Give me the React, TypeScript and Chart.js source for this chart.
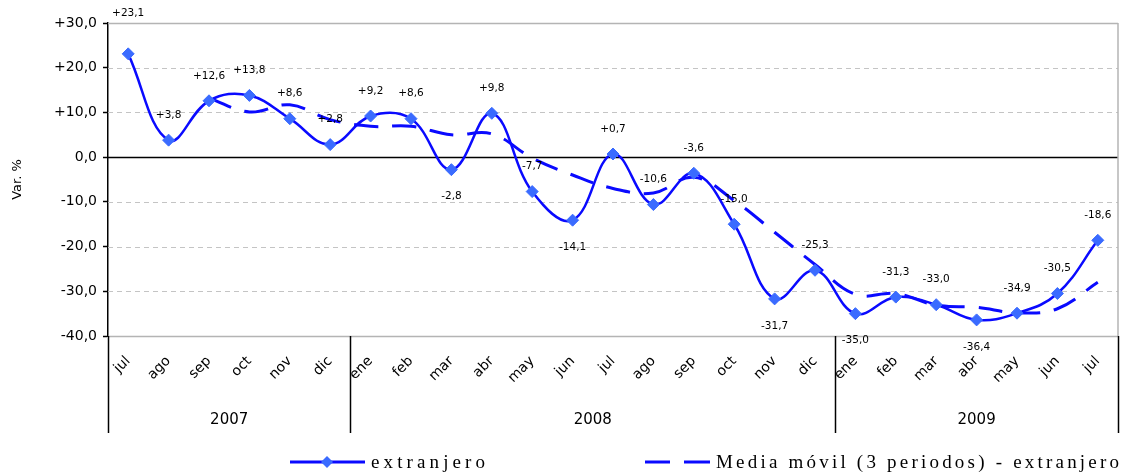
import { useEffect, useRef } from 'react';
import { Chart, registerables } from 'chart.js';

Chart.register(...registerables);

const months = ['jul', 'ago', 'sep', 'oct', 'nov', 'dic', 'ene', 'feb', 'mar', 'abr', 'may', 'jun', 'jul', 'ago', 'sep', 'oct', 'nov', 'dic', 'ene', 'feb', 'mar', 'abr', 'may', 'jun', 'jul'];
const yearLabels = ['2007', '2008', '2009'];
const monthsPerYear = [6, 12, 7];
const extranjero = [23.1, 3.8, 12.6, 13.8, 8.6, 2.8, 9.2, 8.6, -2.8, 9.8, -7.7, -14.1, 0.7, -10.6, -3.6, -15.0, -31.7, -25.3, -35.0, -31.3, -33.0, -36.4, -34.9, -30.5, -18.6];
const mediaMovil = [null, null, 13.2, 10.1, 11.7, 8.4, 6.9, 6.9, 5.0, 5.2, -0.2, -4.0, -7.0, -8.0, -4.5, -9.7, -16.8, -24.0, -30.7, -30.5, -33.1, -33.6, -34.8, -33.9, -28.0];
const yMin = -40;
const yMax = 30;
const yStep = 10;
const labelsBelow = [8, 11, 16, 18, 21];
const seriesNames = ['extranjero', 'Media móvil (3 periodos) - extranjero'];

const LINE_BLUE = '#0a0aff';
const MARK_BLUE = '#3a6bff';

const fmt = (v: number) => {
  const s = Math.abs(v).toFixed(1).replace('.', ',');
  if (v > 0) return '+' + s;
  if (v < 0) return '-' + s;
  return s;
};

function drawSpaced(ctx: CanvasRenderingContext2D, text: string, x: number, y: number, targetW: number) {
  const chars = Array.from(text);
  const widths = chars.map((c) => ctx.measureText(c).width);
  const sum = widths.reduce((a, b) => a + b, 0);
  const gap = chars.length > 1 ? (targetW - sum) / (chars.length - 1) : 0;
  let cx = x;
  chars.forEach((c, i) => {
    ctx.fillText(c, cx, y);
    cx += widths[i] + gap;
  });
}

const decorPlugin = {
  id: 'decor',
  beforeDatasetsDraw(chart: any) {
    const { ctx, chartArea } = chart;
    const ys = chart.scales.y;
    ctx.save();
    for (let v = yMin; v <= yMax; v += yStep) {
      const y = Math.round(ys.getPixelForValue(v)) + 0.5;
      ctx.beginPath();
      if (v === 0) {
        ctx.setLineDash([]);
        ctx.strokeStyle = '#000';
        ctx.lineWidth = 1.5;
      } else if (v === yMax || v === yMin) {
        ctx.setLineDash([]);
        ctx.strokeStyle = '#b4b4b4';
        ctx.lineWidth = 1.5;
      } else {
        ctx.setLineDash([5, 4]);
        ctx.strokeStyle = '#c4c4c4';
        ctx.lineWidth = 1;
      }
      ctx.moveTo(chartArea.left, y);
      ctx.lineTo(chartArea.right, y);
      ctx.stroke();
    }
    ctx.setLineDash([]);
    ctx.strokeStyle = '#b4b4b4';
    ctx.lineWidth = 1.5;
    ctx.beginPath();
    ctx.moveTo(chartArea.right, chartArea.top);
    ctx.lineTo(chartArea.right, chartArea.bottom);
    ctx.stroke();
    ctx.restore();
  },
  afterDatasetsDraw(chart: any) {
    const { ctx } = chart;
    const meta = chart.getDatasetMeta(0);
    ctx.save();
    ctx.font = '10.5px "DejaVu Sans"';
    ctx.fillStyle = '#000';
    ctx.textAlign = 'center';
    ctx.textBaseline = 'middle';
    meta.data.forEach((pt: any, i: number) => {
      const below = labelsBelow.includes(i);
      let dy = below ? 27 : -25;
      if (i === 0) dy = -41;
      ctx.fillText(fmt(extranjero[i]), pt.x, pt.y + dy);
    });
    ctx.restore();
  },
  afterDraw(chart: any) {
    const { ctx, chartArea } = chart;
    const xs = chart.scales.x;
    const sepBottom = 433;
    ctx.save();
    ctx.strokeStyle = '#000';
    ctx.lineWidth = 1.5;
    const bounds: number[] = [chartArea.left];
    let idx = 0;
    monthsPerYear.forEach((n) => {
      idx += n;
      if (idx < months.length) {
        bounds.push((xs.getPixelForValue(idx - 1) + xs.getPixelForValue(idx)) / 2);
      } else {
        bounds.push(chartArea.right);
      }
    });
    bounds.forEach((bx) => {
      const x = Math.round(bx) + 0.5;
      ctx.beginPath();
      ctx.moveTo(x, chartArea.bottom);
      ctx.lineTo(x, sepBottom);
      ctx.stroke();
    });
    ctx.font = '15px "DejaVu Sans"';
    ctx.fillStyle = '#000';
    ctx.textAlign = 'center';
    ctx.textBaseline = 'middle';
    yearLabels.forEach((lab, i) => {
      ctx.fillText(lab, (bounds[i] + bounds[i + 1]) / 2, 420);
    });

    // legend
    const ly = 462;
    ctx.strokeStyle = LINE_BLUE;
    ctx.lineWidth = 3;
    ctx.beginPath();
    ctx.moveTo(290, ly);
    ctx.lineTo(365, ly);
    ctx.stroke();
    ctx.fillStyle = MARK_BLUE;
    ctx.beginPath();
    const dx = 327, r = 6;
    ctx.moveTo(dx, ly - r);
    ctx.lineTo(dx + r, ly);
    ctx.lineTo(dx, ly + r);
    ctx.lineTo(dx - r, ly);
    ctx.closePath();
    ctx.fill();
    ctx.strokeStyle = LINE_BLUE;
    ctx.beginPath();
    ctx.moveTo(645, ly);
    ctx.lineTo(670, ly);
    ctx.moveTo(684, ly);
    ctx.lineTo(710, ly);
    ctx.stroke();
    ctx.fillStyle = '#000';
    ctx.textAlign = 'left';
    ctx.font = '19px "Liberation Serif"';
    drawSpaced(ctx, seriesNames[0], 371, ly + 1, 114);
    drawSpaced(ctx, seriesNames[1], 716, ly + 1, 403);
    ctx.restore();
  },
};

export default function App() {
  const ref = useRef<HTMLCanvasElement | null>(null);
  useEffect(() => {
    if (!ref.current) return;
    const chart = new Chart(ref.current, {
      type: 'line',
      data: {
        labels: months,
        datasets: [
          {
            label: seriesNames[0],
            data: extranjero,
            borderColor: LINE_BLUE,
            backgroundColor: MARK_BLUE,
            borderWidth: 2.5,
            tension: 0.4,
            pointStyle: 'rectRot',
            pointRadius: 6,
            pointBackgroundColor: MARK_BLUE,
            pointBorderColor: MARK_BLUE,
            pointBorderWidth: 1,
            order: 0,
          },
          {
            label: seriesNames[1],
            data: mediaMovil,
            borderColor: LINE_BLUE,
            borderWidth: 3,
            borderDash: [24, 14],
            tension: 0.4,
            pointRadius: 0,
            order: 1,
          },
        ],
      },
      options: {
        responsive: false,
        animation: false,
        layout: { padding: { left: 0, top: 23, right: 21, bottom: 28 } },
        plugins: { legend: { display: false }, tooltip: { enabled: false } },
        scales: {
          x: {
            type: 'category',
            offset: true,
            grid: { display: false },
            border: { display: false },
            ticks: {
              autoSkip: false,
              minRotation: 45,
              maxRotation: 45,
              padding: 9,
              color: '#000',
              font: { family: 'DejaVu Sans', size: 14 },
            },
            afterFit: (s: any) => {
              s.height = 109;
            },
          },
          y: {
            min: yMin,
            max: yMax,
            ticks: {
              stepSize: yStep,
              padding: 6,
              color: '#000',
              font: { family: 'DejaVu Sans', size: 14 },
              callback: (v: any) => fmt(Number(v)),
            },
            grid: { drawOnChartArea: false, drawTicks: true, tickLength: 5, tickColor: '#000', tickWidth: 1.5 },
            border: { display: true, color: '#000', width: 1.5 },
            title: {
              display: true,
              text: 'Var. %',
              color: '#000',
              font: { family: 'DejaVu Sans', size: 13 },
              padding: { top: 10, bottom: 0 },
            },
            afterFit: (s: any) => {
              s.width = 108;
            },
          },
        },
      },
      plugins: [decorPlugin],
    } as any);
    return () => chart.destroy();
  }, []);
  return (
    <div style={{ position: 'fixed', left: 0, top: 0, width: 1139, height: 473, background: '#fff' }}>
      <canvas ref={ref} width={1139} height={473} style={{ width: 1139, height: 473, display: 'block' }} />
    </div>
  );
}
